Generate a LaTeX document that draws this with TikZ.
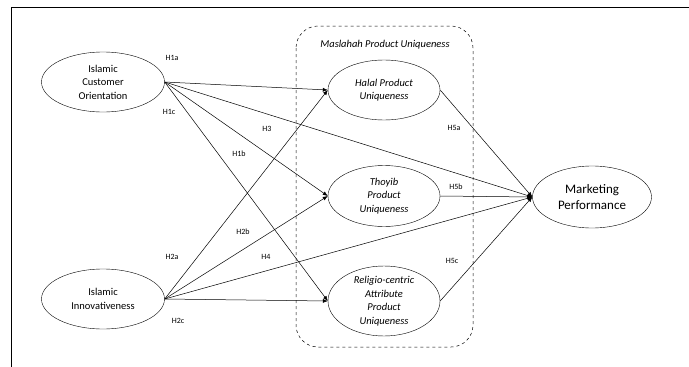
\documentclass[tikz,border=0pt]{standalone}
\usepackage{fontspec}
\setmainfont{Carlito}
\usetikzlibrary{shapes.geometric,arrows.meta}
\begin{document}
\begin{tikzpicture}[x=1pt,y=-1pt,
	construct/.style={draw,ellipse,inner sep=0pt,minimum width=123pt,minimum height=60pt,
		align=center,font=\fontsize{10.5}{13.5}\selectfont},
	mediator/.style={construct,minimum width=112pt,font=\fontsize{10.5}{13.5}\selectfont\itshape},
	outcome/.style={construct,minimum width=119pt,minimum height=62pt,font=\fontsize{13}{16.5}\selectfont},
	hpath/.style={-{Latex[length=5pt,width=4pt]},line width=0.5pt},
	hyp/.style={font=\fontsize{8}{10}\selectfont}]
	\useasboundingbox (0,0) rectangle (689,367);
	\draw[line width=0.8pt] (11,367) -- (11,7) -- (689,7);

	% mediator group
	\draw[dashed,line width=0.5pt,rounded corners=22pt] (296,26) rectangle (473,347);
	\node[font=\fontsize{10.5}{13}\selectfont\itshape] (group) at (385,45) {Maslahah Product Uniqueness};

	\node[construct] (ico) at (103,82) {Islamic\\Customer\\Orientation};
	\node[construct] (ii) at (103,299) {Islamic\\Innovativeness};
	\node[mediator] (halal) at (384,90) {Halal Product\\Uniqueness};
	\node[mediator,minimum height=61pt] (thoyib) at (384,196) {Thoyib\\Product\\Uniqueness};
	\node[mediator] (religio) at (384,301) {Religio-centric\\Attribute\\Product\\Uniqueness};
	\node[outcome] (mp) at (592,197) {Marketing\\Performance};

	\draw[hpath] (ico.east) -- (halal.west);
	\draw[hpath] (ico.east) -- (thoyib.west);
	\draw[hpath] (ico.east) -- (religio.west);
	\draw[hpath] (ico.east) -- (mp.west);
	\draw[hpath] (ii.east) -- (halal.west);
	\draw[hpath] (ii.east) -- (thoyib.west);
	\draw[hpath] (ii.east) -- (religio.west);
	\draw[hpath] (ii.east) -- (mp.west);
	\draw[hpath] (halal.east) -- (mp.west);
	\draw[hpath] (thoyib.east) -- (mp.west);
	\draw[hpath] (religio.east) -- (mp.west);

	\node[hyp] (h1a) at (172,58) {H1a};
	\node[hyp] (h1c) at (169,112) {H1c};
	\node[hyp] (h3) at (267,129) {H3};
	\node[hyp] (h1b) at (239,154) {H1b};
	\node[hyp] (h2b) at (243,232) {H2b};
	\node[hyp] (h2a) at (172,257) {H2a};
	\node[hyp] (h4) at (266,257) {H4};
	\node[hyp] (h2c) at (178,321) {H2c};
	\node[hyp] (h5a) at (454,128) {H5a};
	\node[hyp] (h5b) at (456,187) {H5b};
	\node[hyp] (h5c) at (452,261) {H5c};
\end{tikzpicture}
\end{document}
